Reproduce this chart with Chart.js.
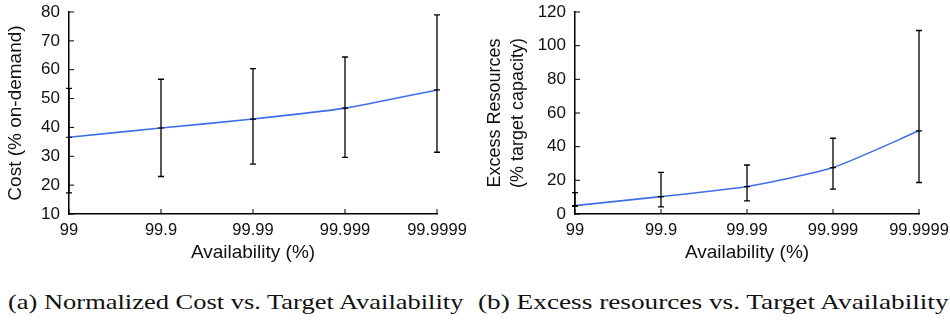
<!DOCTYPE html>
<html>
<head>
<meta charset="utf-8">
<script src="https://cdn.jsdelivr.net/npm/chart.js@4.4.1/dist/chart.umd.min.js"></script>
<style>
  body { margin: 0; background: #fff; width: 950px; height: 332px; overflow: hidden; position: relative; }
  .box { position: absolute; top: 0; height: 264px; }
  #boxA { left: 0; width: 470px; }
  #boxB { left: 470px; width: 480px; }
  .cap { position: absolute; top: 290px; font-family: "Liberation Serif", serif; font-size: 21px; color: #111; white-space: nowrap; transform-origin: 0 0; }
  #capA { left: 8px; }
  #capB { left: 478px; }
</style>
</head>
<body>
<div class="box" id="boxA"><canvas id="costChart"></canvas></div>
<div class="box" id="boxB"><canvas id="excessChart"></canvas></div>
<div class="cap" id="capA">(a) Normalized Cost vs. Target Availability</div>
<div class="cap" id="capB">(b) Excess resources vs. Target Availability</div>
<script>
// Data
var availability = ["99", "99.9", "99.99", "99.999", "99.9999"];

var costMean = [36.6, 39.8, 42.9, 46.7, 53.0];
var costLow  = [17.3, 23.0, 27.3, 29.6, 31.4];
var costHigh = [53.5, 56.7, 60.4, 64.4, 79.0];

var excessMean = [5.0, 10.3, 16.3, 27.6, 49.4];
var excessLow  = [4.5, 4.2, 7.8, 14.8, 18.7];
var excessHigh = [12.7, 24.7, 29.1, 45.0, 109.0];

var FONT = "'Liberation Sans', Arial, sans-serif";
var LINE_BLUE = "#3f6fe8";

// Draws vertical error bars with small caps from the dataset's low/high arrays
var errorBars = {
  id: "errorBars",
  afterDatasetsDraw: function(chart) {
    var ds = chart.data.datasets[0];
    var xs = chart.scales.x, ys = chart.scales.y;
    var ctx = chart.ctx;
    ctx.save();
    ctx.strokeStyle = "#000";
    ctx.lineWidth = 1.3;
    for (var i = 0; i < ds.data.length; i++) {
      var x = xs.getPixelForValue(i);
      var yl = ys.getPixelForValue(ds.errLow[i]);
      var yh = ys.getPixelForValue(ds.errHigh[i]);
      ctx.beginPath();
      ctx.moveTo(x, yl); ctx.lineTo(x, yh);
      ctx.moveTo(x - 3, yl); ctx.lineTo(x + 3, yl);
      ctx.moveTo(x - 3, yh); ctx.lineTo(x + 3, yh);
      ctx.stroke();
    }
    ctx.restore();
  }
};

// Short tick marks pointing into the plot
var innerTicks = {
  id: "innerTicks",
  afterDraw: function(chart) {
    var xs = chart.scales.x, ys = chart.scales.y;
    var area = chart.chartArea;
    var ctx = chart.ctx;
    ctx.save();
    ctx.strokeStyle = "#000";
    ctx.lineWidth = 1;
    ctx.beginPath();
    xs.ticks.forEach(function(t, i) {
      var x = xs.getPixelForTick(i);
      ctx.moveTo(x, area.bottom); ctx.lineTo(x, area.bottom - 5);
    });
    ys.ticks.forEach(function(t, i) {
      var y = ys.getPixelForTick(i);
      ctx.moveTo(area.left, y); ctx.lineTo(area.left + 5, y);
    });
    ctx.stroke();
    ctx.restore();
  }
};

function makeChart(id, mean, low, high, yMin, yMax, yStep, yTitle, titleSize, titleLH, titlePad, yWidth, rightPad) {
  var ctx = document.getElementById(id).getContext("2d");
  return new Chart(ctx, {
    type: "line",
    data: {
      labels: availability,
      datasets: [{
        data: mean,
        errLow: low,
        errHigh: high,
        borderColor: LINE_BLUE,
        borderWidth: 1.6,
        tension: 0.2,
        pointStyle: "line",
        pointRadius: 3,
        pointBorderColor: "#000",
        pointBorderWidth: 1.2,
        fill: false
      }]
    },
    options: {
      responsive: true,
      maintainAspectRatio: false,
      animation: false,
      layout: { padding: 0 },
      plugins: { legend: { display: false }, tooltip: { enabled: false } },
      scales: {
        x: {
          type: "category",
          offset: false,
          grid: { drawOnChartArea: false, drawTicks: false },
          border: { color: "#000", width: 1.5 },
          ticks: { color: "#111", font: { family: FONT, size: 16.5 }, padding: 7, maxRotation: 0, autoSkip: false },
          title: { display: true, text: "Availability (%)", color: "#111", font: { family: FONT, size: 19 }, padding: { top: 0, bottom: 0 } },
          afterFit: function(s) { s.height = 50; s.paddingRight = rightPad; }
        },
        y: {
          min: yMin,
          max: yMax,
          grid: { drawOnChartArea: false, drawTicks: false },
          border: { color: "#000", width: 1.5 },
          ticks: { stepSize: yStep, color: "#111", font: { family: FONT, size: 17 }, padding: 9 },
          title: { display: true, text: yTitle, color: "#111", font: { family: FONT, size: titleSize, lineHeight: titleLH }, padding: { top: titlePad, bottom: 0 } },
          afterFit: function(s) { s.width = yWidth; s.paddingTop = 12; }
        }
      }
    },
    plugins: [errorBars, innerTicks]
  });
}

makeChart("costChart", costMean, costLow, costHigh, 10, 80, 10, "Cost (% on-demand)", 19, 1.2, 4, 69, 33);
makeChart("excessChart", excessMean, excessLow, excessHigh, 0, 120, 20,
  ["Excess Resources", "(% target capacity)"], 18, 1.28, 13.5, 105, 31);

// stretch captions to the width they take in the figure
function fitCaption(id, target) {
  var el = document.getElementById(id);
  el.style.transform = "scaleX(" + (target / el.offsetWidth) + ")";
}
fitCaption("capA", 455);
fitCaption("capB", 470);
</script>
</body>
</html>
